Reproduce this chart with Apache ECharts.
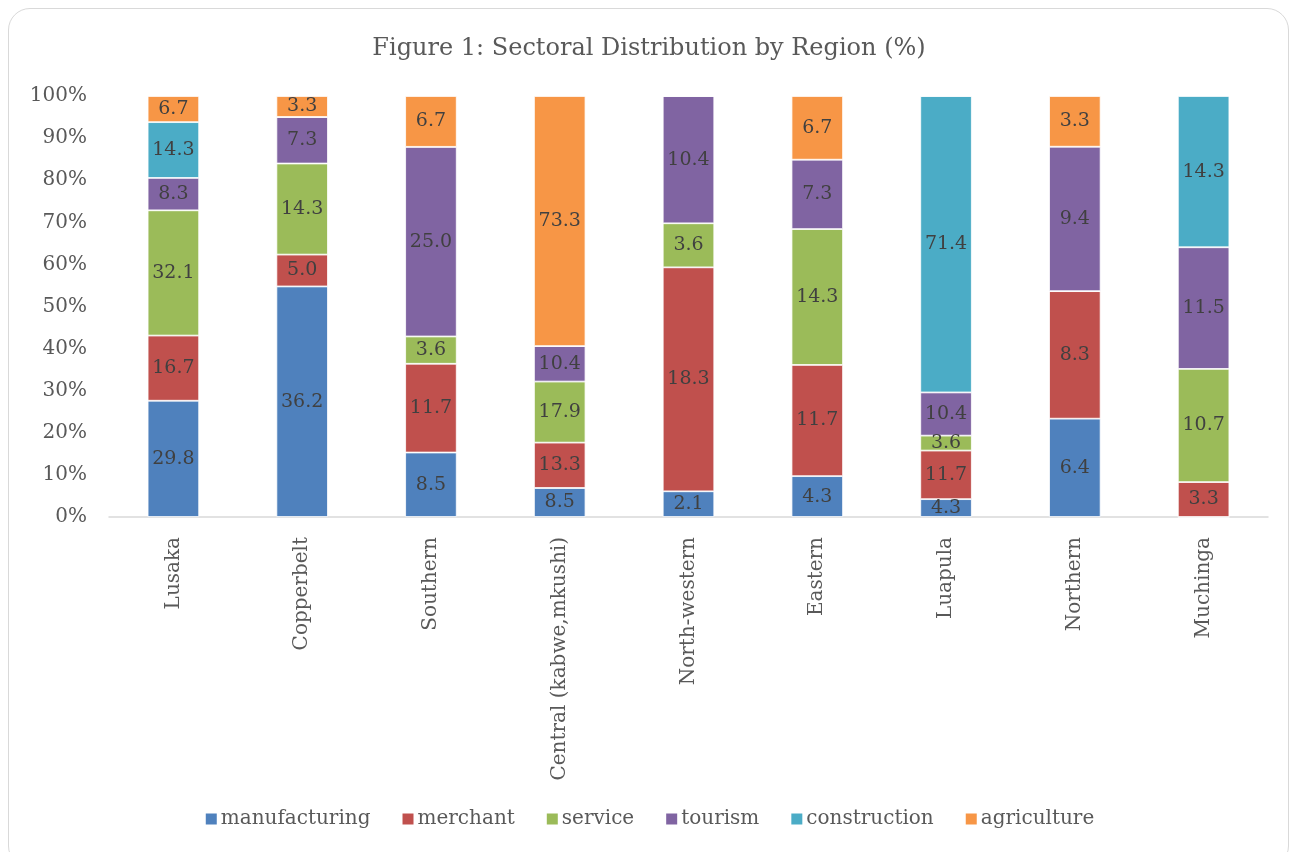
<!DOCTYPE html>
<html><head><meta charset="utf-8">
<script src="https://cdn.jsdelivr.net/npm/echarts@6/dist/echarts.min.js"></script>
<style>html,body{margin:0;padding:0;background:#fff}
#frame{position:absolute;left:8px;top:8px;width:1281px;height:860px;border:1.5px solid #d9d9d9;border-radius:22px;box-sizing:border-box}
#c{position:absolute;left:0;top:0;width:1298px;height:852px}</style>
</head><body>
<div id="frame"></div>
<div id="c"></div>
<script>
const categories = ["Lusaka","Copperbelt","Southern","Central (kabwe,mkushi)","North-western","Eastern","Luapula","Northern","Muchinga"];
const seriesNames = ["manufacturing","merchant","service","tourism","construction","agriculture"];
const manufacturing = [29.8,36.2,8.5,8.5,2.1,4.3,4.3,6.4,0];
const merchant      = [16.7,5.0,11.7,13.3,18.3,11.7,11.7,8.3,3.3];
const service       = [32.1,14.3,3.6,17.9,3.6,14.3,3.6,0,10.7];
const tourism       = [8.3,7.3,25.0,10.4,10.4,7.3,10.4,9.4,11.5];
const construction  = [14.3,0,0,0,0,0,71.4,0,14.3];
const agriculture   = [6.7,3.3,6.7,73.3,0,6.7,0,3.3,0];
const yTicks = ["0%","10%","20%","30%","40%","50%","60%","70%","80%","90%","100%"];
const colors = ["#4F81BD","#C0504D","#9BBB59","#8064A2","#4BACC6","#F79646"];

const raw = [manufacturing,merchant,service,tourism,construction,agriculture];
const totals = categories.map((_,i)=>raw.reduce((s,a)=>s+a[i],0));
const FONT = "DejaVu Serif";

const series = raw.map((arr,k)=>({
  name: seriesNames[k],
  type: 'bar',
  stack: 'total',
  barWidth: '40%',
  itemStyle: {color: colors[k], borderColor: '#ffffff', borderWidth: 0.8},
  label: {
    show: true, position: 'inside', color: '#404040', fontFamily: FONT, fontSize: 19,
    formatter: p => arr[p.dataIndex] ? arr[p.dataIndex].toFixed(1) : ''
  },
  data: arr.map((v,i)=> v ? v/totals[i]*100 : 0)
}));

const chart = echarts.init(document.getElementById('c'));
chart.setOption({
  animation: false,
  color: colors,
  title: {
    text: 'Figure 1: Sectoral Distribution by Region (%)',
    left: 'center', top: 32,
    textStyle: {fontFamily: FONT, fontSize: 24, fontWeight: 'normal', color: '#595959'}
  },
  legend: {
    bottom: 18, left: 'center',
    itemWidth: 13, itemHeight: 13, itemGap: 30,
    icon: 'rect',
    textStyle: {fontFamily: FONT, fontSize: 20, color: '#595959', padding: [0,0,0,-2]},
    data: seriesNames
  },
  grid: {left: 109, right: 30, top: 96, bottom: 335, containLabel: false},
  xAxis: {
    type: 'category', data: categories,
    axisLine: {lineStyle: {color: '#d9d9d9', width: 1.5}},
    axisTick: {show: false},
    axisLabel: {rotate: 90, margin: 20, fontFamily: FONT, fontSize: 20, color: '#595959', interval: 0}
  },
  yAxis: {
    type: 'value', min: 0, max: 100, interval: 10,
    axisLine: {show: false}, axisTick: {show: false},
    splitLine: {show: false},
    axisLabel: {margin: 22, fontFamily: FONT, fontSize: 20, color: '#595959',
      formatter: v => yTicks[Math.round(v/10)]}
  },
  series: series
});
</script>
</body></html>
